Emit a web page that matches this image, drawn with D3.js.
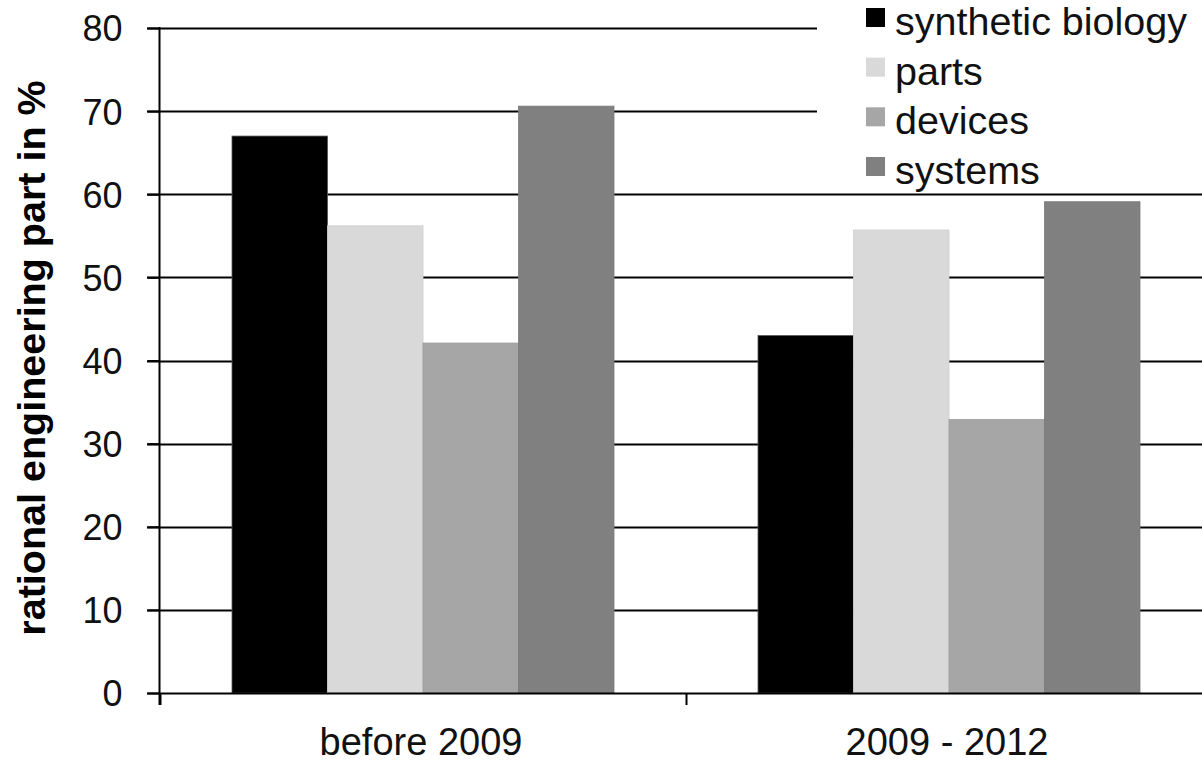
<!DOCTYPE html>
<html>
<head>
<meta charset="utf-8">
<script src="https://cdn.jsdelivr.net/npm/d3@7"></script>
<style>
  html, body { margin: 0; padding: 0; background: #fff; }
  svg { display: block; font-family: "Liberation Sans", Arial, sans-serif; }
</style>
</head>
<body>
<svg id="chart" width="1202" height="764"></svg>
<script>
const categories = ["before 2009", "2009 - 2012"];
const seriesNames = ["synthetic biology", "parts", "devices", "systems"];
const syntheticBiology = [67.0, 43.0];
const parts = [56.2, 55.7];
const devices = [42.1, 32.9];
const systems = [70.6, 59.1];
const yTicks = [0, 10, 20, 30, 40, 50, 60, 70, 80];
const colors = ["#000000", "#d9d9d9", "#a6a6a6", "#808080"];
const yLabel = "rational engineering part in %";

const seriesValues = [syntheticBiology, parts, devices, systems];

const svg = d3.select("#chart");
const x0 = 160, plotRight = 1212, yTop = 28, yBottom = 693;

const y = d3.scaleLinear().domain([0, 80]).range([yBottom, yTop]);
const x = d3.scaleBand().domain(categories).range([x0, plotRight]).padding(0);
const x1 = d3.scaleBand().domain(seriesNames).range([0, x.bandwidth()]).paddingInner(0).paddingOuter(0.754);
const color = d3.scaleOrdinal().domain(seriesNames).range(colors);

// gridlines
svg.append("g").selectAll("line").data(yTicks.filter(d => d > 0)).join("line")
  .attr("x1", 147).attr("x2", 1202)
  .attr("y1", d => Math.round(y(d)) + 0.5).attr("y2", d => Math.round(y(d)) + 0.5)
  .attr("stroke", "#000").attr("stroke-width", 2);

// legend background
svg.append("rect").attr("x", 817).attr("y", 0).attr("width", 385).attr("height", 187).attr("fill", "#fff");

// bars
const rows = [];
categories.forEach((c, i) => seriesNames.forEach((s, j) => rows.push({c, s, v: seriesValues[j][i]})));
svg.append("g").selectAll("rect").data(rows).join("rect")
  .attr("x", d => x(d.c) + x1(d.s))
  .attr("y", d => y(d.v))
  .attr("width", x1.bandwidth())
  .attr("height", d => y(0) - y(d.v))
  .attr("fill", d => color(d.s))
  .attr("stroke", d => d.s === "synthetic biology" ? "#555" : d3.color(color(d.s)).darker(0.15))
  .attr("stroke-width", 0.8);

// y axis
const yAxis = d3.axisLeft(y).tickValues(yTicks).tickSize(12).tickPadding(25);
const gy = svg.append("g").attr("transform", `translate(159.5,0)`).call(yAxis);
gy.select(".domain").remove();
gy.selectAll(".tick line").attr("stroke", "#000").attr("stroke-width", 2);
gy.selectAll(".tick text").attr("font-size", 36).attr("fill", "#111")
  .attr("font-family", "Liberation Sans, Arial, sans-serif").attr("dy", "0.36em");
svg.append("line").attr("x1", 159.5).attr("x2", 159.5).attr("y1", yTop - 1).attr("y2", 705)
  .attr("stroke", "#000").attr("stroke-width", 2);

// x axis
svg.append("line").attr("x1", 147).attr("x2", 1202).attr("y1", yBottom + 0.5).attr("y2", yBottom + 0.5)
  .attr("stroke", "#000").attr("stroke-width", 2);
const xAxis = d3.axisBottom(x).tickSize(0).tickPadding(0);
const gx = svg.append("g").attr("transform", `translate(0,${yBottom})`).call(xAxis);
gx.select(".domain").remove();
gx.selectAll(".tick text").attr("font-size", 38).attr("fill", "#111")
  .attr("font-family", "Liberation Sans, Arial, sans-serif").attr("y", 62).attr("dy", 0)
  .attr("dx", -2);
// category boundary ticks
svg.append("g").selectAll("line").data(categories).join("line")
  .attr("x1", d => Math.round(x(d)) + 0.5).attr("x2", d => Math.round(x(d)) + 0.5)
  .attr("y1", yBottom).attr("y2", 705)
  .attr("stroke", "#000").attr("stroke-width", 2);

// y label
svg.append("text")
  .attr("transform", `translate(45,358) rotate(-90)`)
  .attr("text-anchor", "middle")
  .attr("font-size", 39.5).attr("font-weight", "bold").attr("fill", "#000")
  .text(yLabel);

// legend
const lg = svg.append("g");
const rowY = d3.scalePoint().domain(seriesNames).range([18, 167]);
seriesNames.forEach(s => {
  lg.append("rect").attr("x", 866).attr("y", rowY(s) - 10).attr("width", 19).attr("height", 19)
    .attr("fill", color(s));
  lg.append("text").attr("x", 895).attr("y", rowY(s) + 17)
    .attr("font-size", 39.5).attr("fill", "#111").text(s);
});
</script>
</body>
</html>
